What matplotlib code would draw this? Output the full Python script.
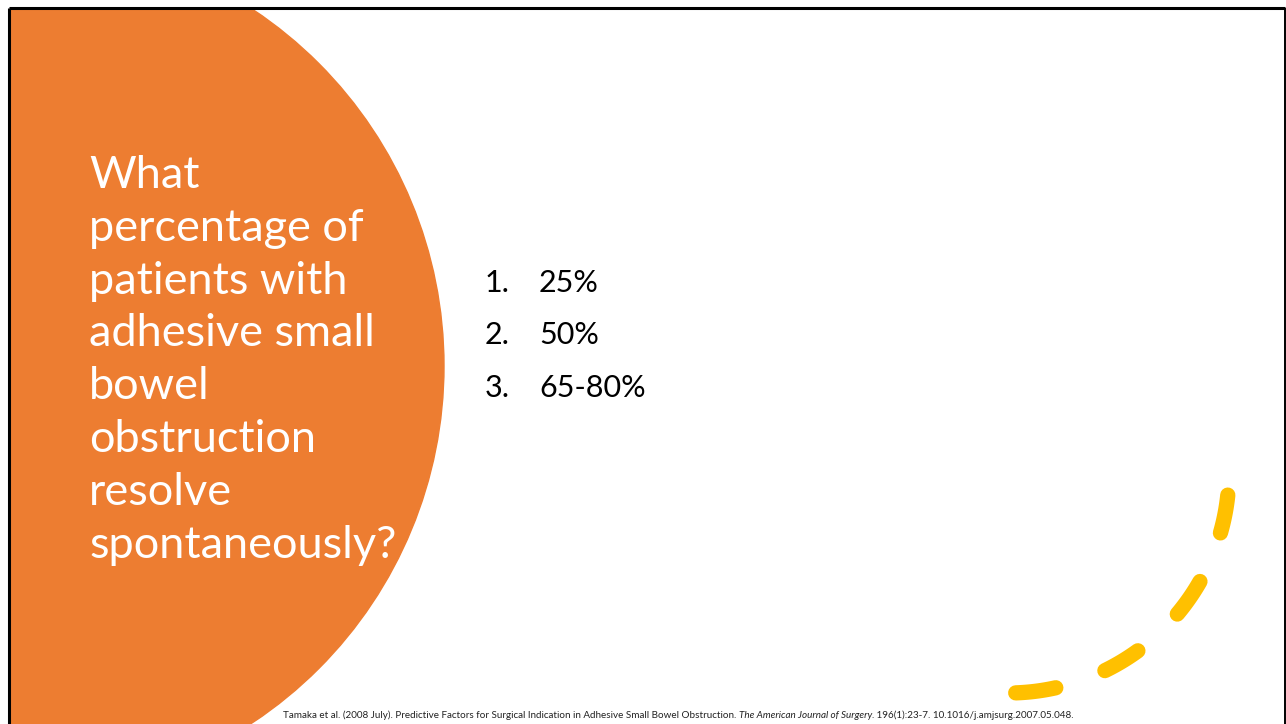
import numpy as np
import matplotlib.pyplot as plt
from matplotlib.patches import Circle

plt.rcParams['font.family'] = ['Lato', 'DejaVu Sans']

# slide text
title_lines = ['What', 'percentage of', 'patients with', 'adhesive small',
               'bowel', 'obstruction', 'resolve', 'spontaneously?']
choice_nums = ['1.', '2.', '3.']
choice_text = ['25%', '50%', '65-80%']
ref_plain = 'Tamaka et al. (2008 July). Predictive Factors for Surgical Indication in Adhesive Small Bowel Obstruction. '
ref_italic = 'The American Journal of Surgery.'
ref_tail = ' 196(1):23-7. 10.1016/j.amjsurg.2007.05.048.'

# yellow dashed arc, dash start/end angles in degrees
dash_start = [6, 29.7, 54, 77.5]
dash_end = [16, 40, 64, 88]

W, H = 1286, 724
fig = plt.figure(figsize=(W / 100, H / 100), dpi=100)
ax = fig.add_axes([0, 0, 1, 1])
ax.set_xlim(0, W)
ax.set_ylim(H, 0)
ax.axis('off')

orange = '#ED7D31'
ax.add_patch(Circle((16, 366), 428, color=orange, zorder=1))
# white out anything outside the slide edge
ax.fill_between([0, 9], 0, H, color='white', zorder=2)
ax.fill_between([0, W], 0, 8, color='white', zorder=2)

# slide border
ax.plot([9, 9], [8, H], color='black', lw=2.2, zorder=3, solid_capstyle='butt')
ax.plot([9, 1285], [8, 8], color='black', lw=2.2, zorder=3, solid_capstyle='butt')
ax.plot([1284.5, 1284.5], [8, H], color='black', lw=1.4, zorder=3, solid_capstyle='butt')

# title, one line at a time
for i, line in enumerate(title_lines):
    ax.text(89, 188 + 52.8 * i, line, color='white', fontsize=32.5,
            fontweight='normal', va='baseline', ha='left', zorder=4)

# answer list
for i, (n, t) in enumerate(zip(choice_nums, choice_text)):
    y = 292 + i * 52.5
    ax.text(485, y, n, fontsize=22, va='baseline', ha='left', color='black', zorder=4)
    ax.text(539, y, t, fontsize=22, va='baseline', ha='left', color='black', zorder=4)

# dashed arc
cx, cy, r = 1008, 472, 221
for a0, a1 in zip(dash_start, dash_end):
    th = np.radians(np.linspace(a0, a1, 30))
    ax.plot(cx + r * np.cos(th), cy + r * np.sin(th), color='#FFC000', lw=11,
            solid_capstyle='round', zorder=4)

# reference line, chained pieces with italic journal name
fig.canvas.draw()
renderer = fig.canvas.get_renderer()
x = 283
fs = 7.15
for s, style in [(ref_plain, 'normal'), (ref_italic, 'italic'), (ref_tail, 'normal')]:
    t = ax.text(x, 715, s, fontsize=fs, style=style, va='center', ha='left',
                color='#222222', zorder=4)
    bb = t.get_window_extent(renderer)
    x += bb.width

fig.savefig('out.png', dpi=100)
